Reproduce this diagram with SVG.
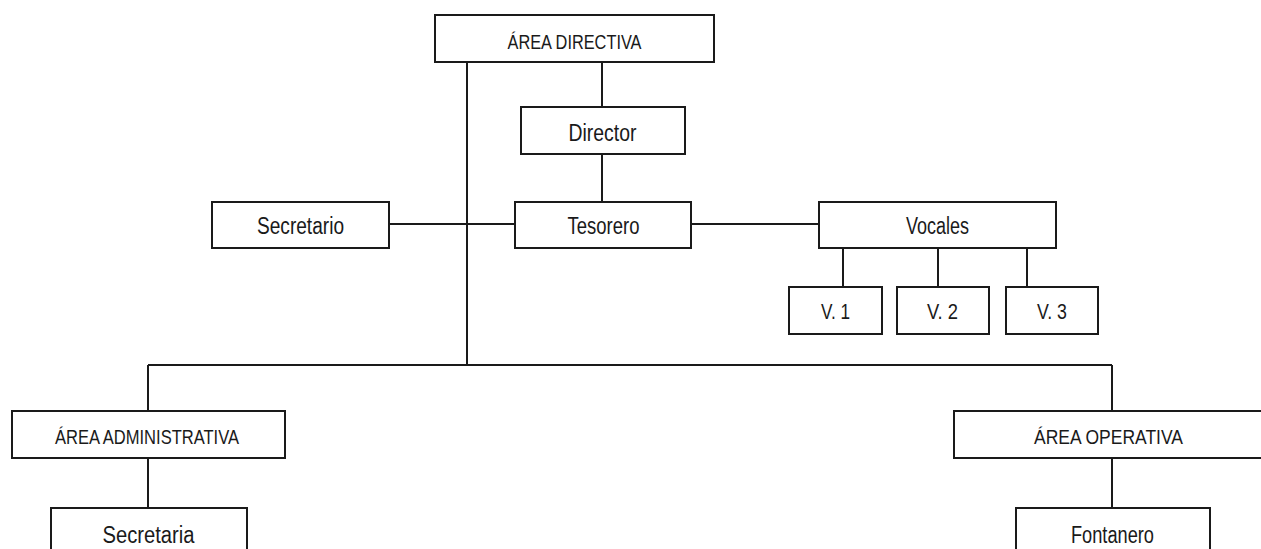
<svg xmlns="http://www.w3.org/2000/svg" width="1261" height="549" viewBox="0 0 1261 549">
<style>
.box{fill:#fff;stroke:#1a1a1a;stroke-width:2}
.lbl{font-family:"Liberation Sans",Arial,sans-serif;font-size:23.5px;fill:#1a1a1a;text-anchor:middle}
.sm{font-size:21px}
.v{font-size:22px}
.conn{fill:none;stroke:#1a1a1a;stroke-width:2}
</style>
<rect width="1261" height="549" fill="#fff"/>
<g id="connectors" class="conn">
<path d="M467 62V365"/>
<path d="M148 365H1112"/>
<path d="M148 365V411"/>
<path d="M1112 365V411"/>
<path d="M602 62V107"/>
<path d="M602 154V202"/>
<path d="M389 224H515"/>
<path d="M691 224H819"/>
<path d="M843 248V287"/>
<path d="M938 248V287"/>
<path d="M1027 248V287"/>
<path d="M148 458V508"/>
<path d="M1112 458V508"/>
</g>
<g id="area-directiva"><rect class="box" x="435" y="15" width="279" height="47"/><text class="lbl sm" x="574.5" y="48.5" textLength="134" lengthAdjust="spacingAndGlyphs">ÁREA DIRECTIVA</text></g>
<g id="director"><rect class="box" x="521" y="107" width="164" height="47"/><text class="lbl" x="602.5" y="140.5" textLength="68" lengthAdjust="spacingAndGlyphs">Director</text></g>
<g id="secretario"><rect class="box" x="212" y="202" width="177" height="46"/><text class="lbl" x="300.5" y="234" textLength="87" lengthAdjust="spacingAndGlyphs">Secretario</text></g>
<g id="tesorero"><rect class="box" x="515" y="202" width="176" height="46"/><text class="lbl" x="603.5" y="234" textLength="72" lengthAdjust="spacingAndGlyphs">Tesorero</text></g>
<g id="vocales"><rect class="box" x="819" y="202" width="237" height="46"/><text class="lbl" x="937.5" y="233.5" textLength="63" lengthAdjust="spacingAndGlyphs">Vocales</text></g>
<g id="v1"><rect class="box" x="789" y="287" width="93" height="47"/><text class="lbl v" x="835.5" y="318.5" textLength="29" lengthAdjust="spacingAndGlyphs">V. 1</text></g>
<g id="v2"><rect class="box" x="897" y="287" width="92" height="47"/><text class="lbl v" x="942.5" y="318.5" textLength="31" lengthAdjust="spacingAndGlyphs">V. 2</text></g>
<g id="v3"><rect class="box" x="1006" y="287" width="92" height="47"/><text class="lbl v" x="1052" y="318.5" textLength="30" lengthAdjust="spacingAndGlyphs">V. 3</text></g>
<g id="area-administrativa"><rect class="box" x="12" y="411" width="273" height="47"/><text class="lbl sm" x="147" y="444" textLength="184" lengthAdjust="spacingAndGlyphs">ÁREA ADMINISTRATIVA</text></g>
<g id="secretaria"><rect class="box" x="51" y="508" width="196" height="60"/><text class="lbl" x="148.5" y="543" textLength="92" lengthAdjust="spacingAndGlyphs">Secretaria</text></g>
<g id="area-operativa"><rect class="box" x="954" y="411" width="320" height="47"/><text class="lbl sm" x="1108.5" y="444" textLength="149" lengthAdjust="spacingAndGlyphs">ÁREA OPERATIVA</text></g>
<g id="fontanero"><rect class="box" x="1016" y="508" width="194" height="60"/><text class="lbl" x="1112.5" y="543" textLength="83" lengthAdjust="spacingAndGlyphs">Fontanero</text></g>
</svg>
